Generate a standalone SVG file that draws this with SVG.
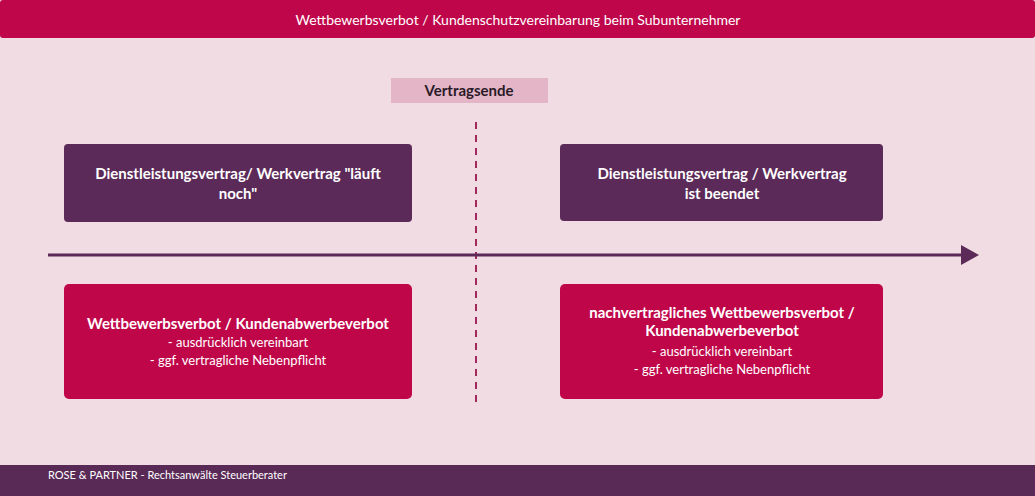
<svg xmlns="http://www.w3.org/2000/svg" width="1035" height="496" viewBox="0 0 1035 496">
<style>
text{font-family:Lato,"Open Sans","Liberation Sans",sans-serif;fill:#fff;text-anchor:middle}
.b{font-weight:bold;font-size:15px}
.s{font-size:13px}
.p{fill:#5b2a58}
.r{fill:#bf0649}
</style>
<defs><marker id="ah" markerWidth="18" markerHeight="20" refX="2" refY="10" orient="auto" markerUnits="userSpaceOnUse"><path d="M0,0 L18,10 L0,20Z" fill="#5b2a58"/></marker></defs>
<rect width="1035" height="496" fill="#f0dce2"/>
<g id="header"><rect x="0" y="0" width="1035" height="38" rx="3" fill="#c0064a"/><text x="518" y="25" style="font-size:14px">Wettbewerbsverbot / Kundenschutzvereinbarung beim Subunternehmer</text></g>
<g id="footer"><rect x="0" y="465" width="1035" height="31" fill="#5a2a57"/><text x="48" y="479" style="font-size:11px;text-anchor:start">ROSE &amp; PARTNER - Rechtsanwälte Steuerberater</text></g>
<g id="connectors">
<line x1="476" y1="122" x2="476" y2="402" stroke="#a0285a" stroke-width="2" stroke-dasharray="7,6"/>
<line x1="48" y1="255" x2="963" y2="255" stroke="#5b2a58" stroke-width="3" marker-end="url(#ah)"/>
</g>
<g id="vertragsende"><rect x="391" y="78" width="157" height="25" fill="#e3b5c7"/><text x="469" y="96" class="b" style="fill:#2a1a28">Vertragsende</text></g>
<g id="n1"><rect x="64" y="144" width="348" height="78" rx="4" class="p"/><text x="238" y="179" class="b">Dienstleistungsvertrag/ Werkvertrag "läuft</text><text x="238" y="199" class="b">noch"</text></g>
<g id="n2"><rect x="560" y="144" width="323" height="77" rx="4" class="p"/><text x="722" y="179" class="b">Dienstleistungsvertrag / Werkvertrag</text><text x="722" y="199" class="b">ist beendet</text></g>
<g id="n3"><rect x="64" y="284" width="348" height="115" rx="5" class="r"/><text x="238" y="329" class="b">Wettbewerbsverbot / Kundenabwerbeverbot</text><text x="238" y="347" class="s">- ausdrücklich vereinbart</text><text x="238" y="365" class="s">- ggf. vertragliche Nebenpflicht</text></g>
<g id="n4"><rect x="560" y="284" width="323" height="115" rx="5" class="r"/><text x="722" y="318" class="b">nachvertragliches Wettbewerbsverbot /</text><text x="722" y="336" class="b">Kundenabwerbeverbot</text><text x="722" y="356" class="s">- ausdrücklich vereinbart</text><text x="722" y="374" class="s">- ggf. vertragliche Nebenpflicht</text></g>
</svg>
